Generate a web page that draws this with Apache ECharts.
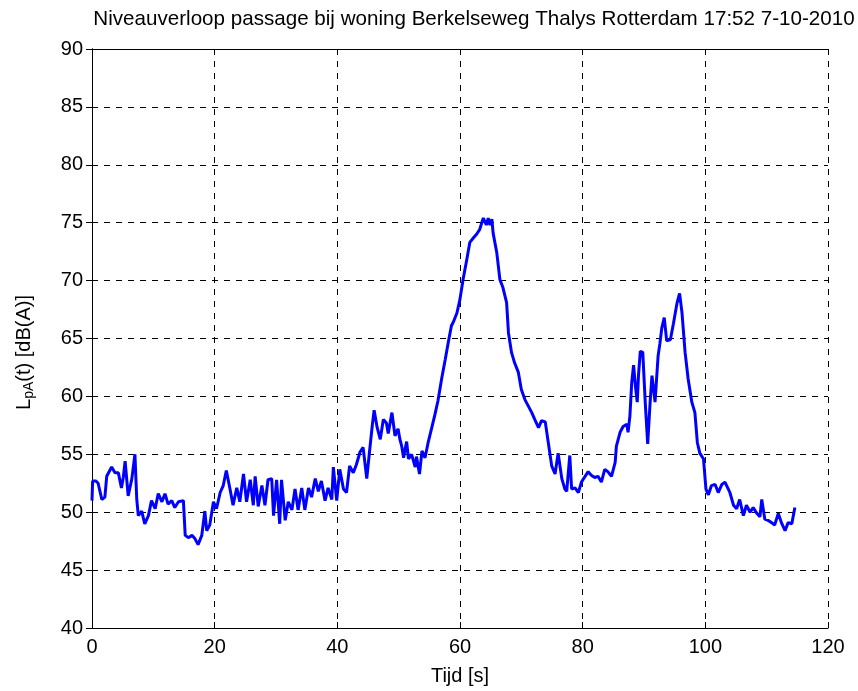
<!DOCTYPE html>
<html>
<head>
<meta charset="utf-8">
<script src="https://cdn.jsdelivr.net/npm/echarts@6/dist/echarts.min.js"></script>
<style>
  html, body { margin: 0; padding: 0; background: #fff; }
  #chart { width: 858px; height: 691px; }
</style>
</head>
<body>
<div id="chart"></div>
<script>
// tijd [s] en niveau LpA [dB(A)]
const tijd = [
  0.0, 0.1, 0.6, 1.0, 1.6, 2.1, 2.4, 3.2, 3.75, 4.3, 4.8, 5.1, 5.4, 5.9, 6.5, 7.0, 7.3, 7.55, 8.1, 8.6,
  9.2, 9.7, 10.3, 10.8, 11.4, 11.9, 12.4, 13.0, 13.5, 14.1, 14.9, 15.2, 15.7, 16.3, 16.8, 17.3, 17.9, 18.4, 18.7, 19.2,
  19.8, 20.3, 20.9, 21.4, 21.9, 22.5, 23.0, 23.6, 24.1, 24.7, 25.2, 25.8, 26.3, 26.6, 27.1, 27.7, 28.2, 28.7, 29.3, 29.6,
  30.1, 30.6, 30.9, 31.5, 32.0, 32.6, 33.1, 33.6, 34.2, 34.7, 35.3, 35.8, 36.4, 36.9, 37.4, 38.0, 38.5, 39.1, 39.35, 39.9,
  40.4, 41.0, 41.5, 42.0, 42.6, 43.1, 43.7, 44.2, 44.8, 45.3, 45.7, 46.0, 46.5, 47.0, 47.5, 48.0, 48.3, 48.9, 49.2, 49.4,
  49.9, 50.2, 50.5, 50.8, 51.3, 51.6, 52.1, 52.7, 52.9, 53.4, 53.8, 54.3, 54.8, 55.4, 55.9, 56.4, 57.0, 57.6, 58.1, 58.6,
  58.9, 59.5, 60.0, 60.5, 61.1, 61.6, 62.2, 62.7, 63.2, 63.8, 64.3, 64.6, 64.9, 65.2, 65.4, 66.0, 66.5, 67.0, 67.6, 67.9,
  68.4, 68.9, 69.5, 70.0, 70.6, 71.1, 71.7, 72.2, 72.8, 73.3, 73.9, 74.4, 74.95, 75.5, 76.0, 76.6, 77.1, 77.4, 77.9, 78.2,
  78.75, 79.3, 79.8, 80.4, 80.9, 81.4, 81.96, 82.5, 83.05, 83.6, 84.1, 84.7, 85.3, 85.5, 86.1, 86.6, 87.2, 87.4, 87.7, 88.0,
  88.3, 88.6, 88.9, 89.1, 89.4, 89.8, 90.2, 90.6, 91.0, 91.3, 91.8, 92.3, 92.6, 92.9, 93.3, 93.7, 94.3, 94.8, 95.4, 95.8,
  96.2, 96.7, 97.2, 97.8, 98.3, 98.7, 99.1, 99.7, 100.1, 100.5, 101.0, 101.6, 102.1, 102.7, 103.2, 103.75, 104.0, 104.6, 105.1, 105.6,
  106.2, 106.7, 107.3, 107.8, 108.4, 108.9, 109.2, 109.7, 110.2, 110.8, 111.3, 111.9, 112.4, 113.0, 113.5, 114.1, 114.6
];
const niveau = [
  51.0, 52.7, 52.7, 52.5, 51.1, 51.3, 53.1, 53.9, 53.4, 53.4, 52.1, 53.0, 54.4, 51.4, 52.9, 55.0, 51.1, 49.7, 50.1, 49.0,
  49.7, 51.0, 50.3, 51.6, 50.9, 51.6, 50.7, 51.0, 50.4, 50.9, 51.0, 48.0, 47.8, 48.0, 47.7, 47.2, 48.0, 50.1, 48.4, 48.9,
  50.9, 50.3, 51.7, 52.3, 53.6, 52.0, 50.6, 52.1, 50.9, 53.3, 50.9, 52.8, 50.6, 53.1, 50.5, 52.3, 50.6, 52.8, 52.9, 49.7,
  52.8, 49.0, 52.8, 49.3, 50.9, 50.2, 52.0, 50.2, 52.1, 50.2, 52.1, 51.3, 52.9, 51.8, 52.7, 51.0, 52.1, 51.1, 53.9, 51.0,
  53.7, 52.0, 51.7, 54.0, 53.4, 54.1, 55.2, 55.6, 52.9, 55.5, 57.5, 58.8, 57.3, 56.3, 58.0, 57.7, 56.8, 58.6, 58.6, 56.6,
  57.2, 56.3, 55.7, 54.7, 56.1, 54.6, 55.0, 53.9, 54.8, 53.3, 55.3, 54.7, 56.0, 57.3, 58.4, 59.6, 61.5, 63.2, 64.7, 66.1,
  66.4, 67.2, 68.4, 70.1, 71.8, 73.3, 73.7, 74.0, 74.4, 75.4, 74.8, 75.4, 74.8, 75.3, 74.1, 72.4, 70.1, 69.4, 68.1, 65.5,
  63.8, 62.9, 62.1, 60.6, 59.7, 59.2, 58.6, 58.0, 57.3, 57.9, 57.8, 56.0, 54.0, 53.3, 55.1, 52.9, 52.0, 51.8, 54.9, 52.0,
  52.1, 51.7, 52.6, 53.1, 53.5, 53.2, 53.0, 53.1, 52.6, 53.7, 53.5, 53.1, 54.3, 55.7, 56.9, 57.4, 57.6, 56.9, 58.3, 61.2,
  62.7, 60.9, 59.5, 61.8, 63.9, 63.8, 59.5, 55.9, 59.5, 61.8, 59.5, 63.5, 64.6, 65.9, 66.8, 64.8, 64.9, 66.3, 68.1, 68.9,
  67.2, 63.8, 61.5, 59.5, 58.6, 56.0, 55.1, 54.6, 52.0, 51.5, 52.3, 52.4, 51.7, 52.4, 52.6, 52.0, 51.7, 50.6, 50.3, 51.1,
  49.7, 50.6, 50.0, 50.4, 49.9, 49.6, 51.1, 49.4, 49.3, 49.1, 48.9, 49.9, 49.1, 48.4, 49.1, 49.0, 50.4
];

const font = "'Liberation Sans', Arial, Helvetica, sans-serif";
const chart = echarts.init(document.getElementById("chart"));

const lijn = { show: true, lineStyle: { color: "#000", width: 1 } };
const streep = { show: true, lineStyle: { color: "#000", width: 1, type: [6, 6] } };
const tick = { show: true, inside: true, length: 6, lineStyle: { color: "#000" } };

const option = {
  animation: false,
  title: {
    text: "Niveauverloop passage bij woning Berkelseweg Thalys Rotterdam 17:52 7-10-2010",
    left: 469,
    textAlign: "center",
    top: 4,
    textStyle: { fontFamily: font, fontSize: 20.6, fontWeight: "normal", color: "#000" },
  },
  grid: { left: 92, right: 30, top: 49, bottom: 62 },
  xAxis: [
    {
      type: "value",
      min: 0,
      max: 120,
      interval: 20,
      name: "Tijd [s]",
      nameLocation: "middle",
      nameGap: 38,
      nameTextStyle: { fontFamily: font, fontSize: 20, color: "#000", verticalAlign: "top" },
      axisLine: lijn,
      axisTick: tick,
      axisLabel: { fontFamily: font, fontSize: 20, color: "#000", margin: 9 },
      splitLine: streep,
    },
    {
      type: "value",
      position: "top",
      min: 0,
      max: 120,
      interval: 20,
      axisLine: lijn,
      axisTick: tick,
      axisLabel: { show: false },
      splitLine: { show: false },
    },
  ],
  yAxis: [
    {
      type: "value",
      min: 40,
      max: 90,
      interval: 5,
      name: "L{sub|pA}(t) [dB(A)]",
      nameLocation: "middle",
      nameGap: 56,
      nameRotate: 90,
      nameTextStyle: {
        fontFamily: font,
        fontSize: 20,
        color: "#000",
        padding: [0, 28, 0, 0],
        rich: { sub: { fontFamily: font, fontSize: 14, color: "#000", verticalAlign: "bottom", padding: [10, 0, 0, 0] } },
      },
      axisLine: lijn,
      axisTick: tick,
      axisLabel: { fontFamily: font, fontSize: 20, color: "#000", margin: 9 },
      splitLine: streep,
    },
    {
      type: "value",
      position: "right",
      min: 40,
      max: 90,
      interval: 5,
      axisLine: lijn,
      axisTick: tick,
      axisLabel: { show: false },
      splitLine: { show: false },
    },
  ],
  series: [
    {
      type: "line",
      data: tijd.map((t, i) => [t, niveau[i]]),
      showSymbol: false,
      lineStyle: { color: "#0000ff", width: 3 },
    },
  ],
};

chart.setOption(option);
</script>
</body>
</html>
